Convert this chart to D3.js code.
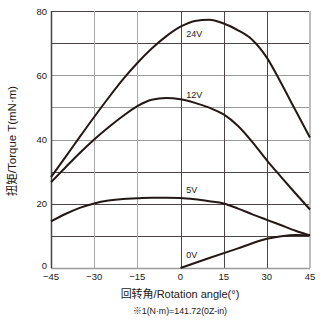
<!DOCTYPE html>
<html>
<head>
<meta charset="utf-8">
<script src="https://cdnjs.cloudflare.com/ajax/libs/d3/7.8.5/d3.min.js"></script>
<style>
  body { margin: 0; background: #fff; }
  text { font-family: "Liberation Sans", Arial, "Noto Sans CJK SC", sans-serif; fill: #231815; }
</style>
</head>
<body>
<svg id="chart" width="320" height="321"></svg>
<script>
// data: [angle, torque]
var v24 = [[-45,28.3],[-40,34.5],[-35,40.8],[-30,47],[-25,53],[-20,58.7],[-15,63.8],[-10,68.3],[-5,72.1],[0,75.1],[5,76.9],[10,77.3],[15,76.1],[20,74],[25,71],[30,65.5],[35,57.5],[40,49],[45,40.6]];
var v12 = [[-45,26.7],[-40,31.3],[-35,35.8],[-30,40],[-25,43.8],[-20,47.3],[-15,50.4],[-10,52.4],[-5,52.9],[0,52.5],[5,51.4],[10,49.9],[15,47.8],[20,44.2],[25,39.2],[30,33.5],[35,28.3],[40,23.2],[45,18.2]];
var v5 = [[-45,14.5],[-40,16.8],[-35,18.7],[-30,20.1],[-25,21],[-20,21.5],[-15,21.7],[-10,21.9],[-5,21.9],[0,21.8],[5,21.4],[10,20.8],[15,20.1],[20,18.5],[25,16.7],[30,15],[35,13.3],[40,11.6],[45,10.1]];
var v0 = [[0,0],[10,3.1],[20,6.1],[30,9.1],[35,9.9],[40,10.3],[45,10.2]];
var seriesNames = ["24V", "12V", "5V", "0V"];
var labelAt = [[2, 72], [2, 53], [2, 23.5], [2, 3]];
var xTicks = [-45, -30, -15, 0, 15, 30, 45];
var yTicks = [0, 20, 40, 60, 80];
var yGrid = [10, 20, 30, 40, 50, 60, 70, 80];

var svg = d3.select("#chart");
var x = d3.scaleLinear().domain([-45, 45]).range([51, 310]);
var y = d3.scaleLinear().domain([0, 80]).range([268, 11]);

// grid
svg.append("g").selectAll("line").data(yGrid).enter().append("line")
    .attr("x1", x(-45)).attr("x2", x(45))
    .attr("y1", function(d){ return Math.round(y(d)) + 0.5; })
    .attr("y2", function(d){ return Math.round(y(d)) + 0.5; })
    .attr("stroke", function(d){ return (d >= 40 && d <= 60) ? "#9a9a9a" : "#4a4444"; })
    .attr("stroke-width", 1);
svg.append("g").selectAll("line").data(xTicks.slice(1, 6)).enter().append("line")
    .attr("x1", function(d){ return Math.round(x(d)) + 0.5; })
    .attr("x2", function(d){ return Math.round(x(d)) + 0.5; })
    .attr("y1", y(0)).attr("y2", y(80))
    .attr("stroke", function(d){ return d < 0 ? "#a8a8a8" : "#4a4444"; })
    .attr("stroke-width", 1);

// frame
svg.append("line").attr("x1", x(-45)).attr("x2", x(45))
    .attr("y1", Math.round(y(0)) + 0.5).attr("y2", Math.round(y(0)) + 0.5)
    .attr("stroke", "#9a9a9a").attr("stroke-width", 1.5);
svg.append("line").attr("x1", x(45)).attr("x2", x(45))
    .attr("y1", y(0)).attr("y2", y(80))
    .attr("stroke", "#bdbdbd").attr("stroke-width", 2);
svg.append("line").attr("x1", Math.round(x(-45)) + 0.5).attr("x2", Math.round(x(-45)) + 0.5)
    .attr("y1", y(0)).attr("y2", y(80))
    .attr("stroke", "#4a4444").attr("stroke-width", 1.5);

// curves
var line = d3.line()
    .x(function(d){ return x(d[0]); })
    .y(function(d){ return y(d[1]); })
    .curve(d3.curveMonotoneX);
svg.append("g").selectAll("path").data([v24, v12, v5, v0]).enter().append("path")
    .attr("d", line)
    .attr("fill", "none")
    .attr("stroke", "#231815")
    .attr("stroke-width", 2);

svg.append("g").selectAll("text").data(seriesNames).enter().append("text")
    .attr("x", function(d, i){ return x(labelAt[i][0]); })
    .attr("y", function(d, i){ return y(labelAt[i][1]); })
    .attr("font-size", 9)
    .text(function(d){ return d; });

// tick labels
svg.append("g").selectAll("text").data(yTicks).enter().append("text")
    .attr("x", 47)
    .attr("y", function(d){ return Math.min(y(d) + 3.5, 268.5); })
    .attr("text-anchor", "end")
    .attr("font-size", 9.5)
    .text(function(d){ return d; });
svg.append("g").selectAll("text").data(xTicks).enter().append("text")
    .attr("x", function(d){ return x(d); })
    .attr("y", 279.5)
    .attr("text-anchor", "middle")
    .attr("font-size", 9.5)
    .text(function(d){ return d < 0 ? "\u2212" + (-d) : d; });

// axis titles
svg.append("text")
    .attr("transform", "translate(16,141) rotate(-90)")
    .attr("text-anchor", "middle")
    .attr("font-size", 11.5)
    .text("扭矩/Torque T(mN·m)");
svg.append("text")
    .attr("x", 180).attr("y", 298)
    .attr("text-anchor", "middle")
    .attr("font-size", 11)
    .text("回转角/Rotation angle(°)");
svg.append("text")
    .attr("x", 180).attr("y", 314)
    .attr("text-anchor", "middle")
    .attr("font-size", 8.8)
    .text("※1(N·m)=141.72(0Z-in)");
</script>
</body>
</html>
